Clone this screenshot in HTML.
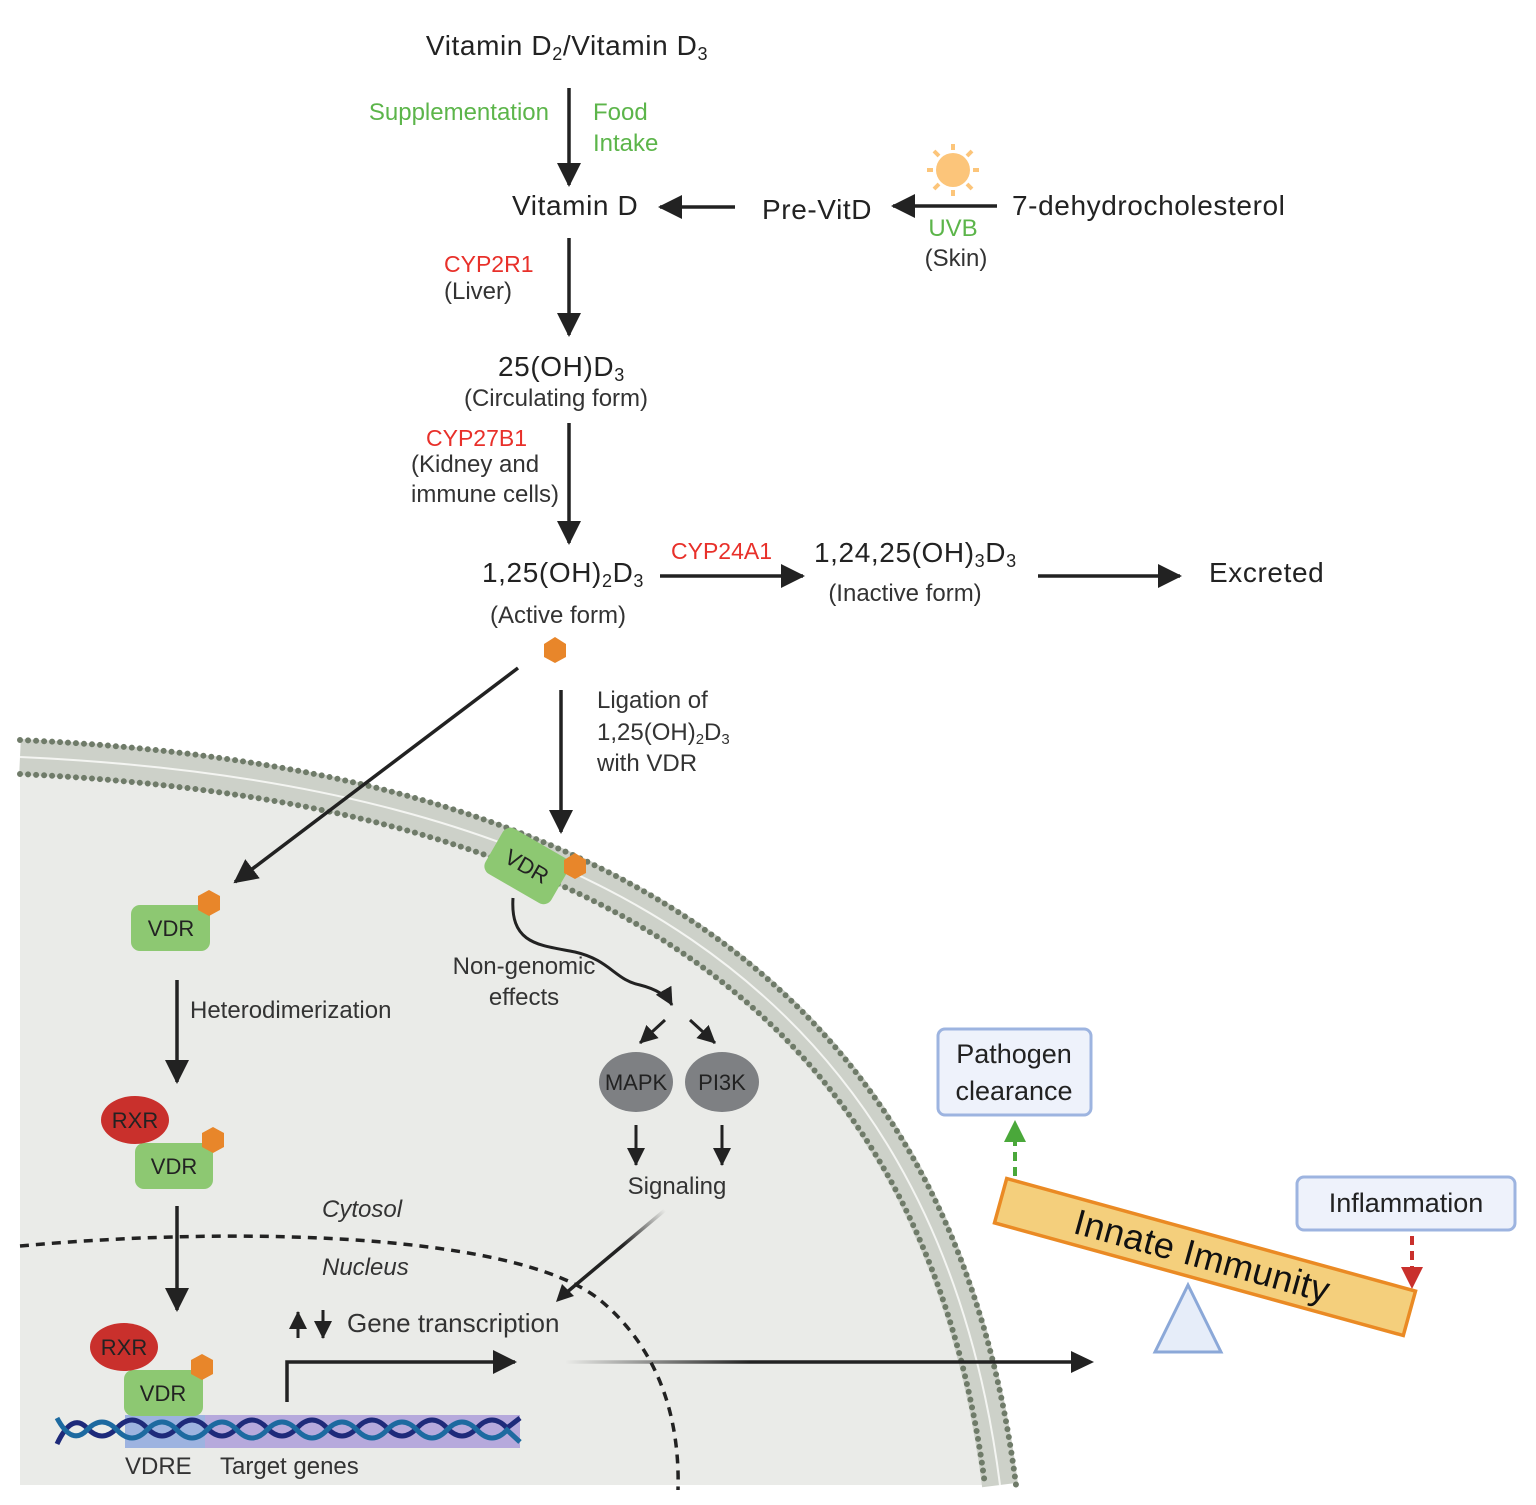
<!DOCTYPE html>
<html><head><meta charset="utf-8"><style>
html,body{margin:0;padding:0;background:#fff;}
svg{display:block;font-family:"Liberation Sans",sans-serif;}
</style></head><body>
<svg width="1536" height="1505" viewBox="0 0 1536 1505" xmlns="http://www.w3.org/2000/svg">
<defs>
<marker id="ahb" markerWidth="26" markerHeight="24" refX="22" refY="12" orient="auto" markerUnits="userSpaceOnUse"><path d="M0,0 L24,12 L0,24 Z" fill="#222"/></marker>
<marker id="ahs" markerWidth="20" markerHeight="18" refX="17" refY="9" orient="auto" markerUnits="userSpaceOnUse"><path d="M0,0 L18,9 L0,18 Z" fill="#222"/></marker>
<linearGradient id="fade" x1="565" y1="0" x2="1093" y2="0" gradientUnits="userSpaceOnUse"><stop offset="0" stop-color="#222" stop-opacity="0"/><stop offset="0.35" stop-color="#222"/><stop offset="1" stop-color="#222"/></linearGradient>
<linearGradient id="fade2" x1="665" y1="1210" x2="560" y2="1300" gradientUnits="userSpaceOnUse"><stop offset="0" stop-color="#222" stop-opacity="0"/><stop offset="0.4" stop-color="#222"/></linearGradient>
</defs>

<!-- cell -->
<path d="M20,774 C560,800 920,985 985,1485 L20,1485 Z" fill="#eaebe8"/>
<path d="M20,757 C570,782 935,977 1000,1485" fill="none" stroke="#cdd1c9" stroke-width="36"/>
<path d="M20,757 C570,782 935,977 1000,1485" fill="none" stroke="#f4f5f2" stroke-width="2"/>
<path d="M20,740 C580,765 950,970 1016,1485" fill="none" stroke="#6f7b69" stroke-width="6" stroke-dasharray="0 8" stroke-linecap="round"/>
<path d="M20,774 C560,800 920,985 985,1485" fill="none" stroke="#6f7b69" stroke-width="6" stroke-dasharray="0 8" stroke-linecap="round"/>

<!-- nucleus dashed -->
<path d="M20,1246 C250,1225 520,1235 600,1300 C660,1350 680,1420 678,1490" fill="none" stroke="#222" stroke-width="3.5" stroke-dasharray="9 7"/>

<!-- top text -->
<g fill="#222" font-size="28" letter-spacing="0.6">
<text x="567" y="55" text-anchor="middle">Vitamin D<tspan font-size="18" dy="5">2</tspan><tspan dy="-5">/Vitamin D</tspan><tspan font-size="18" dy="5">3</tspan></text>
<text x="512" y="215">Vitamin D</text>
<text x="762" y="219">Pre-VitD</text>
<text x="1012" y="215">7-dehydrocholesterol</text>
<text x="498" y="376">25(OH)D<tspan font-size="18" dy="5">3</tspan></text>
<text x="482" y="582">1,25(OH)<tspan font-size="18" dy="5">2</tspan><tspan dy="-5">D</tspan><tspan font-size="18" dy="5">3</tspan></text>
<text x="814" y="562">1,24,25(OH)<tspan font-size="18" dy="5">3</tspan><tspan dy="-5">D</tspan><tspan font-size="18" dy="5">3</tspan></text>
<text x="1209" y="582">Excreted</text>
</g>
<g fill="#5cb54a" font-size="24">
<text x="549" y="120" text-anchor="end">Supplementation</text>
<text x="593" y="120">Food</text>
<text x="593" y="151">Intake</text>
<text x="953" y="236" text-anchor="middle">UVB</text>
</g>
<g fill="#e8302a" font-size="23">
<text x="444" y="272">CYP2R1</text>
<text x="426" y="446">CYP27B1</text>
<text x="671" y="559">CYP24A1</text>
</g>
<g fill="#333" font-size="24">
<text x="956" y="266" text-anchor="middle">(Skin)</text>
<text x="444" y="299">(Liver)</text>
<text x="556" y="406" text-anchor="middle">(Circulating form)</text>
<text x="411" y="472">(Kidney and</text>
<text x="411" y="502">immune cells)</text>
<text x="558" y="623" text-anchor="middle">(Active form)</text>
<text x="905" y="601" text-anchor="middle">(Inactive form)</text>
<text x="597" y="708">Ligation of</text>
<text x="597" y="740">1,25(OH)<tspan font-size="15" dy="4">2</tspan><tspan dy="-4">D</tspan><tspan font-size="15" dy="4">3</tspan></text>
<text x="597" y="771">with VDR</text>
<text x="190" y="1018">Heterodimerization</text>
<text x="524" y="974" text-anchor="middle">Non-genomic</text>
<text x="524" y="1005" text-anchor="middle">effects</text>
<text x="677" y="1194" text-anchor="middle">Signaling</text>
<text x="322" y="1217" font-style="italic">Cytosol</text>
<text x="322" y="1275" font-style="italic">Nucleus</text>
<text x="347" y="1332" font-size="26">Gene transcription</text>
<text x="125" y="1474">VDRE</text>
<text x="220" y="1474">Target genes</text>
</g>

<!-- sun -->
<g>
<circle cx="953" cy="170" r="17" fill="#fcc57a"/>
<g stroke="#fcc57a" stroke-width="4">
<line x1="953" y1="144" x2="953" y2="150"/><line x1="953" y1="190" x2="953" y2="196"/>
<line x1="927" y1="170" x2="933" y2="170"/><line x1="973" y1="170" x2="979" y2="170"/>
<line x1="934" y1="151" x2="939" y2="156"/><line x1="967" y1="184" x2="972" y2="189"/>
<line x1="972" y1="151" x2="967" y2="156"/><line x1="939" y1="184" x2="934" y2="189"/>
</g></g>

<!-- main arrows -->
<g stroke="#222" stroke-width="3.5" fill="none" marker-end="url(#ahb)">
<line x1="569" y1="88" x2="569" y2="185"/>
<line x1="735" y1="207" x2="660" y2="207"/>
<line x1="997" y1="206" x2="893" y2="206"/>
<line x1="569" y1="238" x2="569" y2="335"/>
<line x1="569" y1="423" x2="569" y2="543"/>
<line x1="660" y1="576" x2="803" y2="576"/>
<line x1="1038" y1="576" x2="1180" y2="576"/>
<line x1="518" y1="668" x2="235" y2="882"/>
<line x1="561" y1="690" x2="561" y2="832"/>
<line x1="177" y1="980" x2="177" y2="1082"/>
<line x1="177" y1="1206" x2="177" y2="1310"/>
<path d="M287,1402 L287,1362 L515,1362"/>
</g>
<g stroke="#222" stroke-width="3" fill="none" marker-end="url(#ahs)">
<path d="M513,898 C510,945 540,945 575,952 C610,960 615,980 640,985 C660,990 668,998 672,1005"/>
<line x1="665" y1="1020" x2="640" y2="1043"/>
<line x1="690" y1="1020" x2="715" y2="1043"/>
<line x1="636" y1="1125" x2="636" y2="1165"/>
<line x1="722" y1="1125" x2="722" y2="1165"/>
<line x1="298" y1="1338" x2="298" y2="1312"/>
<line x1="323" y1="1310" x2="323" y2="1338"/>
</g>
<line x1="665" y1="1210" x2="560" y2="1298" stroke="url(#fade2)" stroke-width="3.5"/>
<path d="M556,1302 L562,1284 L574,1296 Z" fill="#222"/>
<line x1="565" y1="1362" x2="1075" y2="1362" stroke="url(#fade)" stroke-width="3.5"/>
<path d="M1071,1351 L1094,1362 L1071,1373 Z" fill="#222"/>

<!-- hexagon top -->
<polygon points="555,637 566,644 566,657 555,663 544,657 544,644" fill="#e8862a"/>

<!-- membrane VDR -->
<g transform="translate(527,866) rotate(30)">
<rect x="-38" y="-26" width="76" height="52" rx="9" fill="#8dc872"/>
<text x="0" y="8" text-anchor="middle" font-size="22" fill="#222">VDR</text>
</g>
<polygon points="575,853 586,860 586,873 575,879 564,873 564,860" fill="#e8862a"/>

<!-- VDR left -->
<rect x="131" y="905" width="79" height="46" rx="9" fill="#8dc872"/>
<text x="171" y="936" text-anchor="middle" font-size="22" fill="#222">VDR</text>
<polygon points="209,890 220,896 220,910 209,916 198,910 198,896" fill="#e8862a"/>

<!-- RXR/VDR 1 -->
<rect x="135" y="1143" width="78" height="46" rx="9" fill="#8dc872"/>
<ellipse cx="135" cy="1120" rx="34" ry="24" fill="#c9302c"/>
<text x="135" y="1128" text-anchor="middle" font-size="22" fill="#222">RXR</text>
<text x="174" y="1174" text-anchor="middle" font-size="22" fill="#222">VDR</text>
<polygon points="213,1127 224,1133 224,1147 213,1153 202,1147 202,1133" fill="#e8862a"/>

<!-- DNA -->
<rect x="125" y="1415" width="395" height="33" fill="#b6a9dc"/>
<rect x="125" y="1415" width="80" height="33" fill="#9db3e0"/>
<path d="M57,1444 Q72,1412 87,1428 T117,1428 T147,1428 T177,1428 T207,1428 T237,1428 T267,1428 T297,1428 T327,1428 T357,1428 T387,1428 T417,1428 T447,1428 T477,1428 T507,1428 L520,1418" fill="none" stroke="#1e2a7a" stroke-width="5"/>
<path d="M57,1418 Q72,1446 87,1430 T117,1430 T147,1430 T177,1430 T207,1430 T237,1430 T267,1430 T297,1430 T327,1430 T357,1430 T387,1430 T417,1430 T447,1430 T477,1430 T507,1430 L520,1442" fill="none" stroke="#1d6aa0" stroke-width="5"/>

<!-- RXR/VDR 2 -->
<rect x="124" y="1370" width="79" height="46" rx="9" fill="#8dc872"/>
<ellipse cx="124" cy="1347" rx="34" ry="24" fill="#c9302c"/>
<text x="124" y="1355" text-anchor="middle" font-size="22" fill="#222">RXR</text>
<text x="163" y="1401" text-anchor="middle" font-size="22" fill="#222">VDR</text>
<polygon points="202,1354 213,1360 213,1374 202,1380 191,1374 191,1360" fill="#e8862a"/>

<!-- MAPK / PI3K -->
<ellipse cx="636" cy="1082" rx="37" ry="30" fill="#7e8083"/>
<ellipse cx="722" cy="1082" rx="37" ry="30" fill="#7e8083"/>
<text x="636" y="1090" text-anchor="middle" font-size="22" fill="#222">MAPK</text>
<text x="722" y="1090" text-anchor="middle" font-size="22" fill="#222">PI3K</text>

<!-- right side -->
<rect x="938" y="1029" width="153" height="86" rx="7" fill="#eef2fb" stroke="#9db4e0" stroke-width="3"/>
<text x="1014" y="1063" text-anchor="middle" font-size="27" fill="#222">Pathogen</text>
<text x="1014" y="1100" text-anchor="middle" font-size="27" fill="#222">clearance</text>
<rect x="1297" y="1177" width="218" height="53" rx="7" fill="#eef2fb" stroke="#9db4e0" stroke-width="3"/>
<text x="1406" y="1212" text-anchor="middle" font-size="27" fill="#222">Inflammation</text>

<line x1="1015" y1="1176" x2="1015" y2="1140" stroke="#4aa83a" stroke-width="4" stroke-dasharray="9 6"/>
<path d="M1004,1142 L1015,1120 L1026,1142 Z" fill="#4aa83a"/>
<line x1="1412" y1="1236" x2="1412" y2="1268" stroke="#c9302c" stroke-width="4" stroke-dasharray="9 6"/>
<path d="M1401,1267 L1412,1289 L1423,1267 Z" fill="#c9302c"/>

<polygon points="1188,1285 1221,1352 1155,1352" fill="#e6edf9" stroke="#8ba8d8" stroke-width="3"/>
<g transform="translate(1205,1257) rotate(15.4)">
<rect x="-212" y="-23" width="424" height="46" fill="#f4cf7c" stroke="#ea8a24" stroke-width="3.5"/>
<text x="-3" y="12" text-anchor="middle" font-size="36" fill="#111" letter-spacing="0.5">Innate Immunity</text>
</g>
</svg>
</body></html>
